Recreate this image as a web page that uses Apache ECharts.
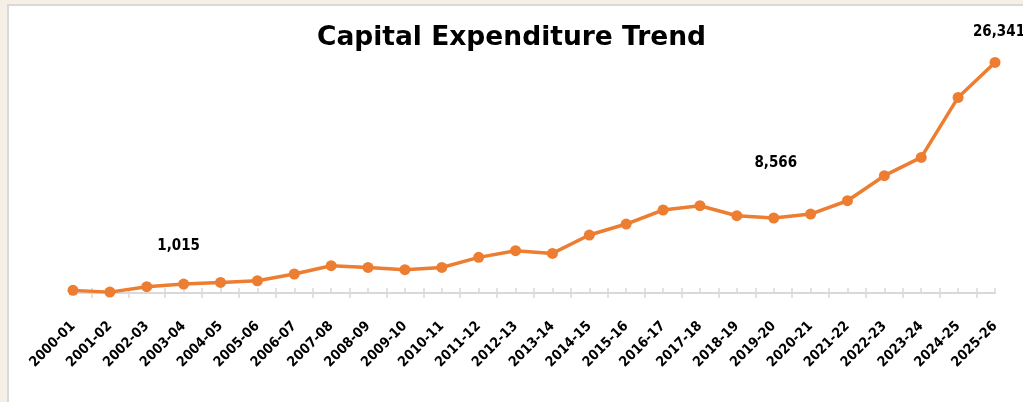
<!DOCTYPE html>
<html>
<head>
<meta charset="utf-8">
<title>Capital Expenditure Trend</title>
<script src="https://cdn.jsdelivr.net/npm/echarts@6/dist/echarts.min.js"></script>
<style>
  html, body { margin: 0; padding: 0; }
  body { width: 1023px; height: 402px; background: #f5efe6; position: relative; overflow: hidden; }
  #frame { position: absolute; left: 7px; top: 4px; width: 1030px; height: 410px; background: #fff;
           border-top: 2px solid #d9d9d9; border-left: 2px solid #d9d9d9; }
  #chart { position: absolute; left: 0; top: 0; width: 1023px; height: 402px; }
</style>
</head>
<body>
<div id="frame"></div>
<div id="chart"></div>
<script>
// years on the x axis
const years = ['2000-01', '2001-02', '2002-03', '2003-04', '2004-05', '2005-06', '2006-07',
  '2007-08', '2008-09', '2009-10', '2010-11', '2011-12', '2012-13', '2013-14', '2014-15',
  '2015-16', '2016-17', '2017-18', '2018-19', '2019-20', '2020-21', '2021-22', '2022-23',
  '2023-24', '2024-25', '2025-26']
// capital expenditure (only the labelled ones are exact)
const capex = [300, 100, 720, 1015, 1210, 1400, 2170, 3120, 2920, 2660, 2920, 4070, 4830,
  4520, 6620, 7880, 9480, 9970, 8830, 8566, 9020, 10540, 13400, 15490, 22340, 26341]
// years whose value is written on the chart
const labelledYears = ['2003-04', '2019-20', '2025-26']

const orange = '#ed7d31'
const labelFont = "'DejaVu Sans Condensed', 'Liberation Sans Narrow', 'Liberation Sans', sans-serif"
// where each value label sits relative to its point
const labelOffsets = { '2003-04': [-5, -38], '2019-20': [2, -55], '2025-26': [4, -30] }

// a second axis only to draw the ticks between the years
const midTicks = years.slice(1)

const seriesData = capex.map(function (v, i) {
  const y = years[i]
  if (labelledYears.indexOf(y) < 0) return v
  return {
    value: v,
    label: {
      show: true,
      position: 'inside',
      offset: labelOffsets[y],
      formatter: function (p) { return p.value.toLocaleString('en-US') },
      fontFamily: labelFont,
      fontWeight: 'bold',
      fontSize: 15,
      color: '#000'
    }
  }
})

const chart = echarts.init(document.getElementById('chart'))
chart.setOption({
  backgroundColor: 'transparent',
  animation: false,
  title: {
    text: 'Capital Expenditure Trend',
    left: 'center',
    top: 20,
    textStyle: { fontFamily: 'DejaVu Sans', fontWeight: 'bold', fontSize: 26.5, color: '#000' }
  },
  grid: { left: 73, right: 28, top: 40, bottom: 109 },
  xAxis: [{
    type: 'category',
    data: years,
    boundaryGap: false,
    axisLine: { lineStyle: { color: '#d9d9d9', width: 2 } },
    axisTick: { show: true, inside: true, length: 5, interval: 0, lineStyle: { color: '#d9d9d9', width: 1.5 } },
    axisLabel: {
      interval: 0,
      rotate: 45,
      margin: 31,
      color: '#000',
      fontFamily: labelFont,
      fontWeight: 'bold',
      fontSize: 14
    },
    splitLine: { show: false }
  }, {
    type: 'category',
    data: midTicks,
    position: 'bottom',
    offset: 5,
    boundaryGap: true,
    axisLine: { show: false },
    axisTick: { show: true, inside: true, length: 10, interval: 0, alignWithLabel: true,
      lineStyle: { color: '#d9d9d9', width: 1.5 } },
    axisLabel: { show: false },
    splitLine: { show: false }
  }],
  yAxis: {
    type: 'value',
    min: 0,
    max: 28900,
    show: false,
    splitLine: { show: false }
  },
  series: [{
    type: 'line',
    data: seriesData,
    symbol: 'circle',
    symbolSize: 11,
    lineStyle: { color: orange, width: 3.5 },
    itemStyle: { color: orange },
    z: 3
  }]
})
</script>
</body>
</html>
